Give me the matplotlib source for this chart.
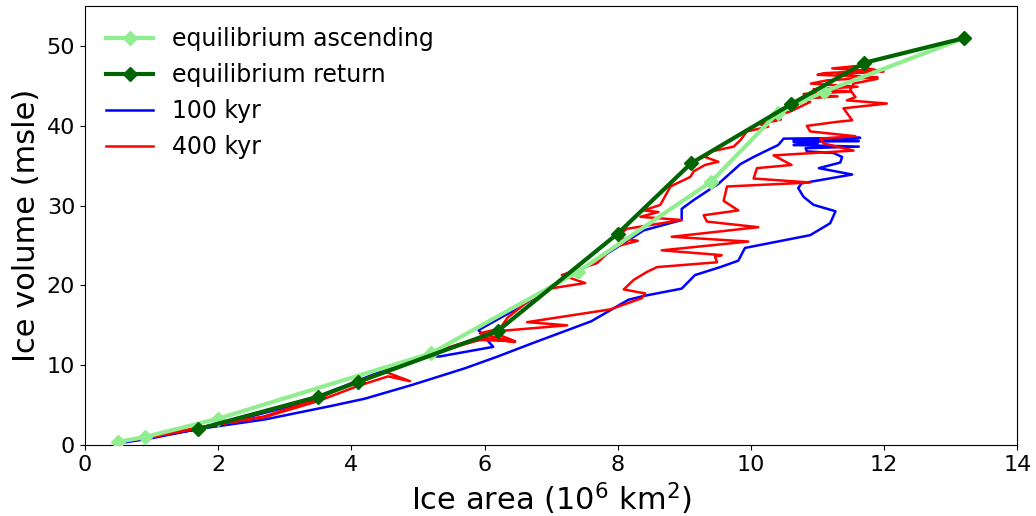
import matplotlib
matplotlib.use("Agg")
import matplotlib.pyplot as plt

# equilibrium curves (area in 10^6 km2, volume in msle)
asc_area = [0.5, 0.9, 2.0, 5.2, 7.4, 9.4, 10.4, 11.1, 13.2]
asc_vol = [0.4, 1.0, 3.3, 11.5, 21.7, 33.0, 41.6, 44.3, 51.0]

ret_area = [1.7, 3.5, 4.1, 6.2, 8.0, 9.1, 10.6, 11.7, 13.2]
ret_vol = [2.0, 6.05, 7.9, 14.3, 26.5, 35.3, 42.7, 47.9, 51.0]

# 100 kyr run
kyr100_area = [0.5, 1.0, 1.7, 2.7, 3.7, 4.2, 4.9, 5.7, 6.2, 6.7, 7.6, 8.16, 8.4, 8.96,
               9.16, 9.54, 9.81, 9.91, 10.89, 11.19, 11.27, 10.94, 10.79, 10.71, 10.76,
               11.52, 11.02, 11.34, 11.37, 11.24, 10.84, 10.82, 11.62, 10.64, 11.0,
               10.64, 11.62, 10.64, 11.64, 10.49, 10.41, 10.21, 10.04, 9.84, 9.52, 9.14,
               8.96, 8.96, 8.39, 7.69, 6.99, 6.53, 5.91, 6.13, 5.33, 5.13, 4.38, 3.23,
               2.5, 1.7, 1.0, 0.5]
kyr100_vol = [0.2, 0.85, 2.0, 3.2, 4.9, 5.8, 7.5, 9.6, 11.1, 12.7, 15.5, 18.2, 18.7, 19.6,
              21.3, 22.3, 23.1, 24.7, 26.3, 27.8, 29.3, 30.1, 31.1, 32.2, 32.8,
              33.9, 34.7, 35.4, 36.1, 36.6, 36.8, 37.2, 37.4, 37.6, 37.8,
              38.0, 38.1, 38.2, 38.5, 38.4, 37.6, 36.8, 36.1, 35.2, 32.8, 30.7,
              29.6, 28.2, 26.9, 23.2, 19.8, 17.3, 14.4, 12.3, 11.1, 11.1, 9.0, 5.2,
              3.6, 2.0, 1.0, 0.4]

# 400 kyr run
kyr400_area = [0.5, 1.0, 1.7, 2.7, 3.5, 4.1, 4.55, 4.88, 4.5, 5.13, 5.6, 6.03, 6.45,
               5.93, 6.23, 6.35, 6.68, 6.98, 7.51, 7.16, 7.69, 7.94, 8.3, 7.95, 8.14,
               8.96, 8.34, 8.61, 8.39, 8.64, 8.79, 9.09, 9.14, 9.31, 9.51, 9.31, 9.41,
               9.74, 9.84, 9.94, 10.26, 10.14, 10.45, 10.3, 10.59, 10.89, 10.75, 11.3,
               10.79, 11.5, 10.94, 11.6, 10.9, 11.14, 11.9, 11.0, 11.09, 11.8, 11.22,
               11.59, 11.99, 11.3, 11.9, 11.54, 11.49, 11.57, 11.44, 12.04, 11.39,
               11.52, 11.29, 10.84, 10.89, 11.57, 11.04, 11.09, 11.54, 10.34, 10.61,
               10.09, 10.04, 10.89, 9.64, 9.59, 9.81, 9.29, 9.34, 10.11, 8.81, 9.96,
               8.66, 9.56, 9.46, 9.49, 8.59, 8.44, 8.24, 8.09, 8.41, 8.36, 7.89, 6.64,
               7.24, 6.1, 6.46, 5.83, 5.33, 4.6, 4.0, 3.5, 2.7, 1.7, 1.0, 0.5]
kyr400_vol = [0.4, 1.0, 2.2, 3.5, 5.5, 7.4, 8.6, 8.0, 9.2, 11.1, 12.4, 13.4, 12.9,
              14.0, 14.6, 16.0, 18.2, 19.6, 20.3, 21.3, 22.8, 24.8, 25.6, 26.0, 27.1,
              28.2, 28.6, 29.2, 29.4, 30.1, 32.4, 33.6, 34.3, 35.1, 35.5, 36.1, 36.8,
              37.4, 38.2, 39.3, 39.9, 40.2, 40.8, 41.0, 41.8, 43.0, 43.4, 43.7,
              44.0, 44.3, 44.6, 44.9, 45.3, 45.7, 46.1, 46.4, 46.6, 46.9, 47.2,
              47.5, 46.8, 46.5, 45.9, 45.3, 44.5, 43.6, 43.2, 42.8, 42.2,
              40.7, 40.5, 40.0, 39.3, 38.7, 38.4, 37.8, 36.9, 36.3, 35.1,
              34.7, 33.4, 32.9, 32.4, 30.6, 29.4, 28.8, 28.0, 27.3, 26.1, 25.5,
              24.4, 23.8, 23.6, 22.9, 22.3, 21.7, 20.7, 19.5, 19.0, 18.4, 17.0, 15.4,
              15.0, 14.2, 13.0, 13.2, 11.9, 9.5, 7.7, 5.8, 3.6, 2.1, 1.0, 0.4]

fig = plt.figure(figsize=(10.36, 5.16), dpi=100)
ax = fig.add_axes([0.082, 0.1376, 0.9, 0.8504])

# equilibrium lines on top, transient runs underneath
ax.plot(asc_area, asc_vol, color='lightgreen', lw=3, marker='D', ms=7,
        label='equilibrium ascending', zorder=4)
ax.plot(ret_area, ret_vol, color='darkgreen', lw=3, marker='D', ms=7,
        label='equilibrium return', zorder=5)
ax.plot(kyr100_area, kyr100_vol, color='blue', lw=1.8, label='100 kyr', zorder=2)
ax.plot(kyr400_area, kyr400_vol, color='red', lw=1.8, label='400 kyr', zorder=3)

ax.set_xlim(0, 14)
ax.set_ylim(0, 55)
ax.set_xticks(range(0, 15, 2))
ax.set_yticks(range(0, 51, 10))
ax.tick_params(labelsize=16)
ax.set_xlabel('Ice area (10$^6$ km$^2$)', fontsize=22)
ax.set_ylabel('Ice volume (msle)', fontsize=22)
ax.legend(loc='upper left', frameon=False, fontsize=17, labelspacing=0.5)

fig.savefig('out.png', dpi=100)
